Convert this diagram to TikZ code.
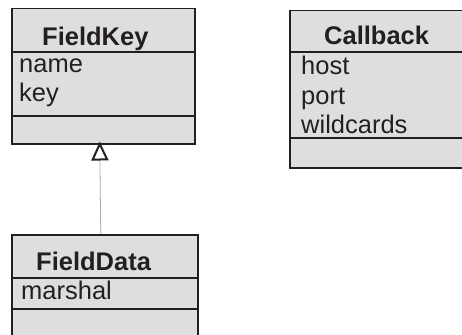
\documentclass[tikz,border=0pt]{standalone}
\usepackage{fontspec}
\setmainfont{Liberation Sans}
\usetikzlibrary{arrows.meta}
\definecolor{boxfill}{RGB}{222,222,222}
\definecolor{boxline}{RGB}{35,31,32}
\definecolor{linkgray}{RGB}{170,170,170}
\begin{document}
\begin{tikzpicture}[x=1pt,y=-1pt,
  classbox/.style={draw=boxline,fill=boxfill,line width=1.5pt,rectangle,inner sep=0pt,anchor=north west},
  sep/.style={draw=boxline,line width=1.5pt},
  title/.style={font=\fontsize{25.5}{30}\selectfont\bfseries,text=boxline,anchor=base west,inner sep=0pt},
  attr/.style={font=\fontsize{25.5}{30}\selectfont,text=boxline,anchor=base west,inner sep=0pt},
  link/.style={draw=linkgray,line width=0.8pt,shorten >=-3pt,-{Triangle[open,width=17pt,length=19pt,line width=2pt,color=boxline,fill=white]}}]
\useasboundingbox (0,0) rectangle (462,334);
\clip (0,0) rectangle (462,334);
% FieldKey
\node[classbox,minimum width=183pt,minimum height=135pt] (fk) at (11,8) {};
\draw[sep] (fk.west |- 0,52) -- (fk.east |- 0,52);
\draw[sep] (fk.west |- 0,116) -- (fk.east |- 0,116);
\node[title] (fkt) at (42,46) {FieldKey};
\node[attr] (fk1) at (19,73) {name};
\node[attr] (fk2) at (19,102) {key};
% Callback
\node[classbox,minimum width=190pt,minimum height=157pt] (cb) at (289,10) {};
\draw[sep] (cb.west |- 0,52) -- (cb.east |- 0,52);
\draw[sep] (cb.west |- 0,138) -- (cb.east |- 0,138);
\node[title] (cbt) at (324,45) {Callback};
\node[attr] (cb1) at (301,75) {host};
\node[attr] (cb2) at (301,104) {port};
\node[attr] (cb3) at (301,133) {wildcards};
% FieldData
\node[classbox,minimum width=186pt,minimum height=120pt] (fd) at (11,234) {};
\draw[sep] (fd.west |- 0,278) -- (fd.east |- 0,278);
\draw[sep] (fd.west |- 0,309) -- (fd.east |- 0,309);
\node[title] (fdt) at (36,270) {FieldData};
\node[attr] (fd1) at (21,299) {marshal};
% generalization
\draw[link] ([xshift=-4pt]fd.north) -- ([xshift=-3.5pt]fk.south);
\end{tikzpicture}
\end{document}
